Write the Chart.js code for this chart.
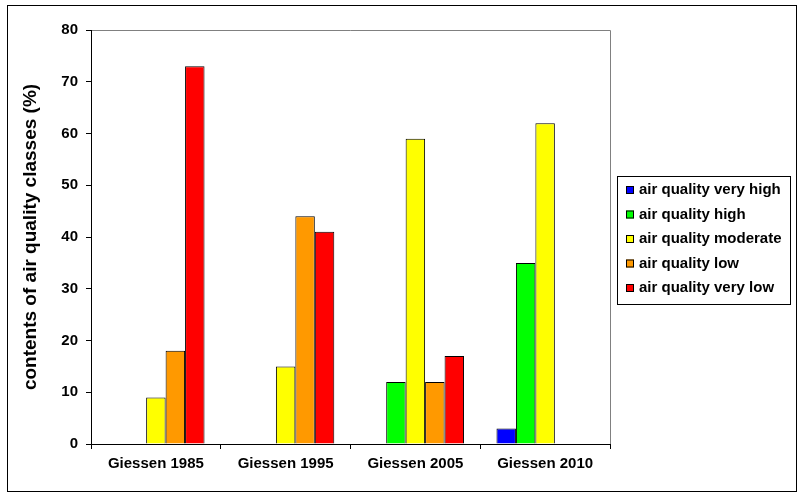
<!DOCTYPE html>
<html>
<head>
<meta charset="utf-8">
<script src="https://cdn.jsdelivr.net/npm/chart.js@4.4.0/dist/chart.umd.min.js"></script>
<style>
  html, body { margin: 0; padding: 0; background: #fff; }
  canvas { display: block; }
</style>
</head>
<body>
<canvas id="air_quality" width="802" height="497"></canvas>
<script>
const categories = ["Giessen 1985", "Giessen 1995", "Giessen 2005", "Giessen 2010"];

const seriesNames = [
  "air quality very high",
  "air quality high",
  "air quality moderate",
  "air quality low",
  "air quality very low",
];
const seriesColors = ["#0000FF", "#00FF00", "#FFFF00", "#FF9900", "#FF0000"];

const veryHigh = [0, 0, 0, 3];
const high = [0, 0, 12, 35];
const moderate = [9, 15, 59, 62];
const low = [18, 44, 12, 0];
const veryLow = [73, 41, 17, 0];

const seriesValues = [veryHigh, high, moderate, low, veryLow];

const FONT = "'Liberation Sans', Arial, sans-serif";

// white background, outer frame, grey plot frame on top/right
const framePlugin = {
  id: "frame",
  beforeDraw(chart) {
    const c = chart.ctx;
    const a = chart.chartArea;
    c.save();
    c.fillStyle = "#fff";
    c.fillRect(0, 0, chart.width, chart.height);
    c.strokeStyle = "#000";
    c.lineWidth = 1;
    c.strokeRect(7.5, 5.5, 789, 486);
    c.strokeStyle = "#808080";
    c.beginPath();
    c.moveTo(a.left, Math.round(a.top) + 0.5);
    c.lineTo(Math.round(a.right) + 0.5, Math.round(a.top) + 0.5);
    c.lineTo(Math.round(a.right) + 0.5, a.bottom);
    c.stroke();
    c.restore();
  },
};

// boxed legend on the right
const legendBoxPlugin = {
  id: "legendBox",
  afterDraw(chart) {
    const c = chart.ctx;
    c.save();
    c.strokeStyle = "#000";
    c.lineWidth = 1;
    c.strokeRect(617.5, 176.5, 173, 128);
    c.font = "bold 15px " + FONT;
    c.textBaseline = "middle";
    chart.data.datasets.forEach((ds, i) => {
      const y = 190 + i * 24.5;
      c.fillStyle = ds.backgroundColor;
      c.fillRect(626, y - 4, 8, 8);
      c.strokeStyle = "#000";
      c.strokeRect(626.5, y - 3.5, 7, 7);
      c.fillStyle = "#000";
      c.fillText(ds.label, 639, y);
    });
    c.restore();
  },
};

new Chart(document.getElementById("air_quality"), {
  type: "bar",
  data: {
    labels: categories,
    datasets: seriesNames.map((name, i) => ({
      label: name,
      data: seriesValues[i],
      backgroundColor: seriesColors[i],
      borderColor: "#000",
      borderWidth: 1,
      borderSkipped: "bottom",
      categoryPercentage: 0.75,
      barPercentage: 1.0,
    })),
  },
  options: {
    responsive: false,
    animation: false,
    layout: {
      padding: { top: 30, right: 192, left: 0, bottom: 0 },
    },
    plugins: {
      legend: { display: false },
      tooltip: { enabled: false },
    },
    scales: {
      x: {
        grid: {
          offset: true,
          drawOnChartArea: false,
          tickLength: 5,
          color: "#000",
        },
        border: { color: "#000", width: 1 },
        ticks: {
          color: "#000",
          padding: 6,
          font: { family: FONT, size: 15, weight: "bold" },
        },
        afterFit(scale) {
          scale.height = 53;
        },
      },
      y: {
        min: 0,
        max: 80,
        ticks: {
          stepSize: 10,
          color: "#000",
          padding: 8,
          font: { family: FONT, size: 15, weight: "bold" },
        },
        grid: {
          drawOnChartArea: false,
          tickLength: 5,
          color: "#000",
        },
        border: { color: "#000", width: 1 },
        title: {
          display: true,
          text: "contents of air quality classes (%)",
          color: "#000",
          padding: { top: 19, bottom: 0 },
          font: { family: FONT, size: 19, weight: "bold" },
        },
        afterFit(scale) {
          scale.width = 91;
        },
      },
    },
  },
  plugins: [framePlugin, legendBoxPlugin],
});
</script>
</body>
</html>
